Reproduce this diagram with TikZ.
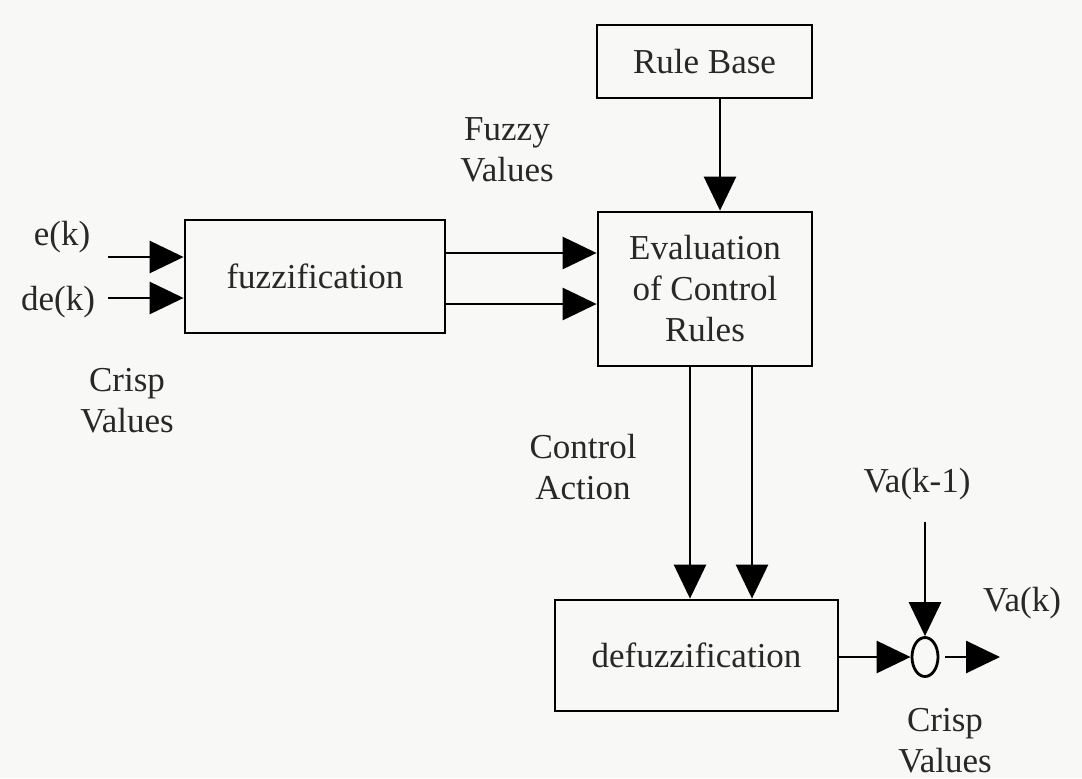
\documentclass[tikz,border=0pt]{standalone}
\usepackage{fontspec}
\setmainfont{Liberation Serif}
\usetikzlibrary{arrows.meta,shapes.geometric,calc}
\definecolor{paper}{RGB}{248,248,246}
\definecolor{ink}{RGB}{40,40,40}
\begin{document}
\begin{tikzpicture}
[x=0.5pt,y=-0.5pt,
  blockdecorate/.style={shape=rectangle,draw,line width=1.4pt,inner sep=0pt,
    align=center,text=ink,font=\fontsize{17.5}{20.5}\selectfont},
  arrowdecorate/.style={line width=1.4pt,-{Triangle[length=17pt,width=16pt]}},
  labeldecorate/.style={align=center,text=ink,inner sep=0pt,
    font=\fontsize{17.5}{20.5}\selectfont}]
\fill[paper] (0,0) rectangle (1082,778);
\useasboundingbox (0,0) rectangle (1082,778);
%% blocks
\node (rulebase) at (704.5,61.5) [blockdecorate,minimum width=107.5pt,minimum height=36.5pt] {Rule Base};
\node (fuzz) at (315,276.5) [blockdecorate,minimum width=130pt,minimum height=56.5pt] {fuzzification};
\node (eval) at (705,289) [blockdecorate,minimum width=107pt,minimum height=77pt] {Evaluation\\of Control\\Rules};
\node (defuzz) at (696.5,655.5) [blockdecorate,minimum width=141.5pt,minimum height=55.5pt] {defuzzification};
\node (sum) at (925,657) [shape=ellipse,draw,line width=1.4pt,inner sep=0pt,
  minimum width=13pt,minimum height=19.5pt] {};
%% labels
\foreach \labelname/\x/\y/\labeltext in {ek/62/237/e(k), dek/58/302/de(k),
  crispin/127/401/Crisp\\Values, fuzzy/507/150/Fuzzy\\Values,
  action/583/467/Control\\Action, vaprev/917/484/Va(k-1), va/1022/603/Va(k),
  crispout/945/741/Crisp\\Values}
{
  \node (\labelname) at (\x,\y) [labeldecorate] {\labeltext};
}
%% free ends
\coordinate (ein) at (108,257);
\coordinate (dein) at (108,298);
\coordinate (fuzzout1) at (445,253);
\coordinate (fuzzout2) at (445,304);
\coordinate (ruleout) at (720,98);
\coordinate (evalout1) at (690,366);
\coordinate (evalout2) at (752,366);
\coordinate (vain) at (925,522);
\coordinate (vaout) at (1000,657);
%% arrows
\draw[arrowdecorate] (ein) -- (ein -| fuzz.west);
\draw[arrowdecorate] (dein) -- (dein -| fuzz.west);
\draw[arrowdecorate] (fuzzout1) -- (fuzzout1 -| eval.west);
\draw[arrowdecorate] (fuzzout2) -- (fuzzout2 -| eval.west);
\draw[arrowdecorate] (ruleout) -- (ruleout |- eval.north);
\draw[arrowdecorate] (evalout1) -- (evalout1 |- defuzz.north);
\draw[arrowdecorate] (evalout2) -- (evalout2 |- defuzz.north);
\draw[arrowdecorate] (defuzz.east |- sum) -- (sum.west);
\draw[arrowdecorate] (vain) -- (sum.north);
\draw[arrowdecorate] ([xshift=3pt]sum.east) -- (vaout);
\end{tikzpicture}
\end{document}
